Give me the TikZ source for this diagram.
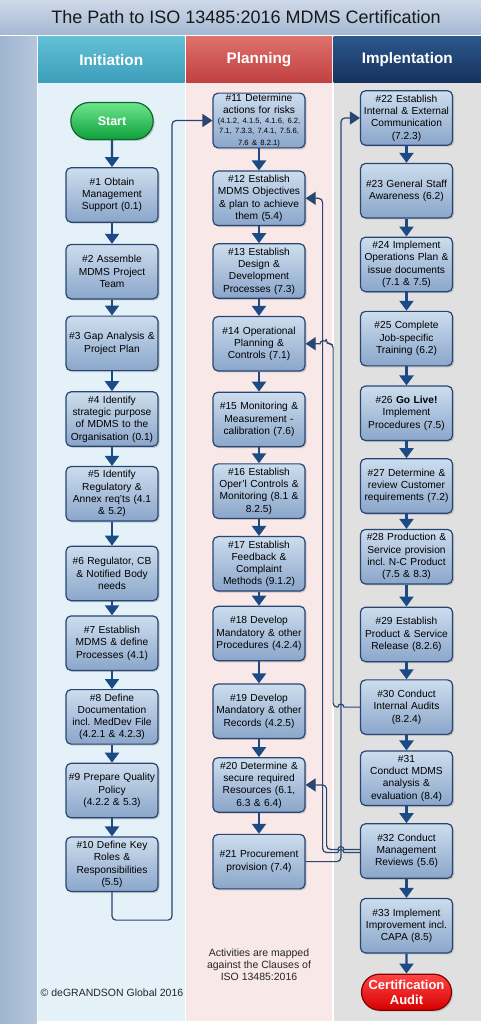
\documentclass[tikz,border=0pt]{standalone}
\usepackage{fontspec}
\setmainfont{Liberation Sans}
\usepackage{tikz}
\usetikzlibrary{arrows.meta,shapes.misc,positioning,shadows,calc}
\usepackage{xcolor}
\definecolor{isonavy}{RGB}{40,70,114}
\definecolor{isoarrow}{RGB}{28,74,132}
\definecolor{isoboxtop}{RGB}{205,221,238}
\definecolor{isoboxbot}{RGB}{138,166,202}
\definecolor{isotitletop}{RGB}{206,218,232}
\definecolor{isotitlebot}{RGB}{164,184,210}
\definecolor{isostrip}{RGB}{158,180,208}
\definecolor{isotealtop}{RGB}{98,192,214}
\definecolor{isoteal}{RGB}{60,158,186}
\definecolor{isoredtop}{RGB}{222,112,108}
\definecolor{isored}{RGB}{192,64,64}
\definecolor{isodarktop}{RGB}{44,86,138}
\definecolor{isodark}{RGB}{22,50,94}
\definecolor{isoinit}{RGB}{228,241,248}
\definecolor{isoplan}{RGB}{249,232,232}
\definecolor{isoimpl}{RGB}{224,224,224}
\definecolor{isogreentop}{RGB}{110,230,140}
\definecolor{isogreen}{RGB}{12,160,60}
\definecolor{isogreendark}{RGB}{16,100,44}
\definecolor{isoredlight}{RGB}{255,70,70}
\definecolor{isoredfull}{RGB}{214,0,0}
\definecolor{isoreddark}{RGB}{130,0,0}
\tikzstyle{arrow} = [line width=2.2pt,-{Triangle[width=14pt,length=10pt]},color=isoarrow]
\tikzstyle{link} = [line width=1.2pt,-{Triangle[width=13pt,length=10pt]},color=isonavy]
\tikzstyle{stepbox} = [rectangle, rounded corners=5pt, minimum width=92pt, minimum height=54.5pt, text width=90pt, inner sep=1pt, align=center, draw=isonavy, line width=1.2pt, top color=isoboxtop, bottom color=isoboxbot, drop shadow={shadow xshift=1.5pt,shadow yshift=-1.5pt,opacity=0.35}, font=\fontsize{10.2}{12.3}\selectfont]
\tikzstyle{startbox} = [rounded rectangle, minimum width=89pt, minimum height=37pt, draw=isogreendark, line width=1.2pt, top color=isogreentop, bottom color=isogreen, text=white, drop shadow={shadow xshift=1.5pt,shadow yshift=-1.5pt,opacity=0.35}, font=\fontsize{12.5}{15}\selectfont\bfseries]
\tikzstyle{endbox} = [rounded rectangle, minimum width=92pt, minimum height=36pt, inner sep=1pt, align=center, draw=isoreddark, line width=1.2pt, top color=isoredlight, bottom color=isoredfull, text=white, drop shadow={shadow xshift=1.5pt,shadow yshift=-1.5pt,opacity=0.35}, font=\fontsize{13}{15}\selectfont\bfseries]
\tikzstyle{colhead} = [rectangle, minimum height=46pt, inner sep=0pt, text=white, font=\fontsize{15.3}{18}\selectfont\bfseries]
\tikzstyle{titlebar} = [rectangle, minimum height=35pt, inner sep=0pt, top color=isotitletop, bottom color=isotitlebot]
\tikzstyle{notetext} = [align=center, text=black!85, font=\fontsize{10.5}{12}\selectfont]

\begin{document}
\begin{tikzpicture}[x=1pt,y=-1pt]
\useasboundingbox (0,0) rectangle (481,1024);
\fill[white] (0,0) rectangle (481,1024);

% Title and lanes
\node[titlebar, minimum width=481pt] (bar) at (240.5,17.5) {};
\node[text=black!90, font=\fontsize{18}{21}\selectfont] (title) at (246,17.5) {The Path to ISO 13485:2016 MDMS Certification};
\fill[left color=isostrip, right color=isostrip!75!white] (0,37) rectangle (37,1024);
\fill[isoinit] (38,83) rectangle (184.5,1021);
\fill[isoplan] (186,83) rectangle (332,1021);
\fill[isoimpl] (333.5,83) rectangle (481,1021);
\node[colhead, minimum width=146.5pt, top color=isotealtop, bottom color=isoteal] (hinit) at (111.25,60) {Initiation};
\node[colhead, minimum width=146pt, top color=isoredtop, bottom color=isored] (hplan) at (259,60) {Planning};
\node[colhead, minimum width=147.5pt, top color=isodarktop, bottom color=isodark] (himpl) at (407.25,60) {Implentation};

% Initiation
\node[startbox] (start) at (112,121) {Start};
\node[stepbox, below=27pt of start] (t1) {\#1 Obtain\\Management\\Support (0.1)};
\node[stepbox, below=21pt of t1] (t2) {\#2 Assemble\\MDMS Project\\Team};
\node[stepbox, below=16pt of t2] (t3) {\#3 Gap Analysis \&\\Project Plan};
\node[stepbox, below=20pt of t3] (t4) {\#4 Identify\\strategic purpose\\of MDMS to the\\Organisation (0.1)};
\node[stepbox, below=19pt of t4] (t5) {\#5 Identify\\Regulatory \&\\Annex req'ts (4.1\\\& 5.2)};
\node[stepbox, below=24pt of t5] (t6) {\#6 Regulator, CB\\\& Notified Body\\needs};
\node[stepbox, below=14pt of t6] (t7) {\#7 Establish\\MDMS \& define\\Processes (4.1)};
\node[stepbox, below=18pt of t7] (t8) {\#8 Define\\Documentation\\incl.\ MedDev File\\(4.2.1 \& 4.2.3)};
\node[stepbox, below=18pt of t8] (t9) {\#9 Prepare Quality\\Policy\\(4.2.2 \& 5.3)};
\node[stepbox, below=18pt of t9] (t10) {\#10 Define Key\\Roles \&\\Responsibilities\\(5.5)};

% Planning
\node[stepbox] (t11) at (259,120.5) {\#11 Determine\\actions for risks\par\fontsize{7.6}{9.6}\selectfont (4.1.2, 4.1.5, 4.1.6, 6.2,\\7.1, 7.3.3, 7.4.1, 7.5.6,\\7.6 \& 8.2.1)};
\node[stepbox, below=22pt of t11] (t12) {\#12 Establish\\MDMS Objectives\\\& plan to achieve\\them (5.4)};
\node[stepbox, below=17pt of t12] (t13) {\#13 Establish\\Design \&\\Development\\Processes (7.3)};
\node[stepbox, below=17pt of t13] (t14) {\#14 Operational\\Planning \&\\Controls (7.1)};
\node[stepbox, below=20pt of t14] (t15) {\#15 Monitoring \&\\Measurement -\\calibration (7.6)};
\node[stepbox, below=16pt of t15] (t16) {\#16 Establish\\Oper'l Controls \&\\Monitoring (8.1 \&\\8.2.5)};
\node[stepbox, below=17pt of t16] (t17) {\#17 Establish\\Feedback \&\\Complaint\\Methods (9.1.2)};
\node[stepbox, below=14pt of t17] (t18) {\#18 Develop\\Mandatory \& other\\Procedures (4.2.4)};
\node[stepbox, below=22pt of t18] (t19) {\#19 Develop\\Mandatory \& other\\Records (4.2.5)};
\node[stepbox, below=18pt of t19] (t20) {\#20 Determine \&\\secure required\\Resources (6.1,\\6.3 \& 6.4)};
\node[stepbox, below=21pt of t20] (t21) {\#21 Procurement\\provision (7.4)};

% Implentation
\node[stepbox] (t22) at (406.5,118) {\#22 Establish\\Internal \& External\\Communication\\(7.2.3)};
\node[stepbox, below=17pt of t22] (t23) {\#23 General Staff\\Awareness (6.2)};
\node[stepbox, below=18pt of t23] (t24) {\#24 Implement\\Operations Plan \&\\issue documents\\(7.1 \& 7.5)};
\node[stepbox, below=18.5pt of t24] (t25) {\#25 Complete\\Job-specific\\Training (6.2)};
\node[stepbox, below=19pt of t25] (t26) {\#26 \textbf{Go Live!}\\Implement\\Procedures (7.5)};
\node[stepbox, below=17pt of t26] (t27) {\#27 Determine \&\\review Customer\\requirements (7.2)};
\node[stepbox, below=15pt of t27] (t28) {\#28 Production \&\\Service provision\\incl.\ N-C Product\\(7.5 \& 8.3)};
\node[stepbox, below=22pt of t28] (t29) {\#29 Establish\\Product \& Service\\Release (8.2.6)};
\node[stepbox, below=17pt of t29] (t30) {\#30 Conduct\\Internal Audits\\(8.2.4)};
\node[stepbox, below=15.5pt of t30] (t31) {\#31\\Conduct MDMS\\analysis \&\\evaluation (8.4)};
\node[stepbox, below=17pt of t31] (t32) {\#32 Conduct\\Management\\Reviews (5.6)};
\node[stepbox, below=19pt of t32] (t33) {\#33 Implement\\Improvement incl.\\CAPA (8.5)};
\node[endbox, below=20pt of t33] (cert) {Certification\\Audit};

% Flow down each lane
\foreach \a/\b in {start/t1,t1/t2,t2/t3,t3/t4,t4/t5,t5/t6,t6/t7,t7/t8,t8/t9,t9/t10,
  t11/t12,t12/t13,t13/t14,t14/t15,t15/t16,t16/t17,t17/t18,t18/t19,t19/t20,t20/t21,
  t22/t23,t23/t24,t24/t25,t25/t26,t26/t27,t27/t28,t28/t29,t29/t30,t30/t31,t31/t32,t32/t33,t33/cert}
  \draw[arrow] (\a) -- (\b);

% Links between lanes
\draw[link, rounded corners=4pt] (t10.south) |- ++(60,28) |- (t11.west);
\draw[link, rounded corners=4pt] (t21.east) -| ($(t22.west)+(-19,0)$) -- (t22.west);
\draw[link] (t30.west) -- ++(-16,0) arc[start angle=0,end angle=180,radius=3pt]
  [rounded corners=4pt] -| ($(t14.east)+(27.5,0)$) -- ++(-7,0) [sharp corners]
  arc[start angle=0,end angle=180,radius=3pt] -- (t14.east);
\draw[link] ([yshift=-1.5pt]t32.west) -- ++(-16,0) arc[start angle=0,end angle=180,radius=3pt]
  [rounded corners=4pt] -| ($(t12.east)+(17,0)$) -- (t12.east);
\draw[link] ([yshift=1.5pt]t32.west) -- ++(-16,0) arc[start angle=0,end angle=180,radius=3pt]
  [rounded corners=4pt] -| ($(t20.east)+(21,0)$) -- (t20.east);

% Notes
\node[notetext] (note) at (259,965) {Activities are mapped\\against the Clauses of\\ISO 13485:2016};
\node[notetext] (copy) at (112,993) {© deGRANDSON Global 2016};
\end{tikzpicture}
\end{document}
